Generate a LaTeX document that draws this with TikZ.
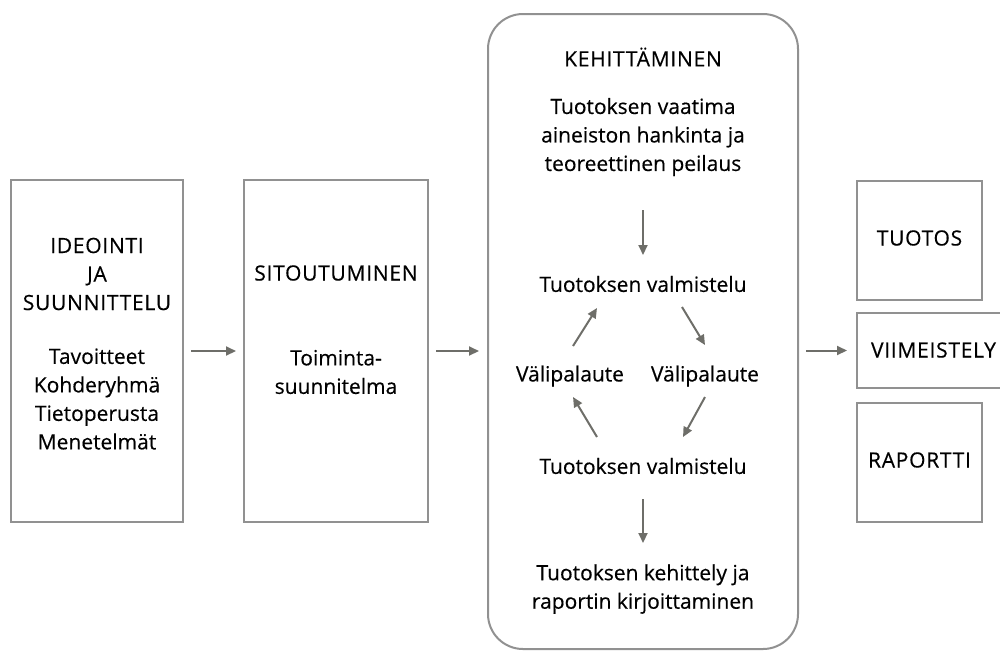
\documentclass[tikz,border=0pt]{standalone}
\usepackage{fontspec}
\setmainfont{Open Sans}[FakeBold=0.4]
\newfontfamily\capsfont{Open Sans}[FakeBold=0.4, LetterSpace=3.5]
\usetikzlibrary{arrows.meta}

\definecolor{boxgray}{RGB}{145,145,145}
\definecolor{arrowgray}{RGB}{110,110,105}
\tikzset{
	box/.style={draw=boxgray, line width=2pt, inner sep=0pt},
	txt/.style={align=center, inner sep=0pt, font=\fontsize{21}{28.5}\selectfont},
	caps/.style={txt, font=\fontsize{21}{28.5}\selectfont\capsfont},
	arr/.style={-{Triangle[length=10pt, width=9pt]}, line width=2pt, arrowgray},
}

\begin{document}
\begin{tikzpicture}[x=1pt, y=-1pt]
	\useasboundingbox (0,0) rectangle (1000,651);
	% boxes
	\node[box, minimum width=172pt, minimum height=342pt] (ideointi) at (97,351) {};
	\node[box, minimum width=184pt, minimum height=342pt] (sitoutuminen) at (336,351) {};
	\node[box, rounded corners=35pt, minimum width=310pt, minimum height=635pt] (kehittaminen) at (643,331.5) {};
	\node[box, minimum width=125pt, minimum height=119pt] (tuotos) at (919.5,240.5) {};
	\node[box, minimum width=153pt, minimum height=75pt] (viimeistely) at (933.5,350.5) {};
	\node[box, minimum width=125pt, minimum height=119pt] (raportti) at (919.5,462.5) {};
	% texts
	\node[caps] (idea) at (97,274) {IDEOINTI\\JA\\SUUNNITTELU};
	\node[txt] (lista) at (97,399) {Tavoitteet\\Kohderyhmä\\Tietoperusta\\Menetelmät};
	\node[caps] (sitou) at (336,273) {SITOUTUMINEN};
	\node[txt] (suunnitelma) at (336,372) {Toiminta-\\suunnitelma};
	\node[caps] (kehit) at (643,57) {KEHITTÄMINEN};
	\node[txt] (aineisto) at (643,137) {Tuotoksen vaatima\\aineiston hankinta ja\\teoreettinen peilaus};
	\node[txt] (valmistelu1) at (643,284) {Tuotoksen valmistelu};
	\node[txt] (palaute1) at (570,376) {Välipalaute};
	\node[txt] (palaute2) at (705,376) {Välipalaute};
	\node[txt] (valmistelu2) at (643,466) {Tuotoksen valmistelu};
	\node[txt] (kehittely) at (643,589) {Tuotoksen kehittely ja\\raportin kirjoittaminen};
	\node[caps] (tuot) at (919.5,238) {TUOTOS};
	\node[caps] (viim) at (933.5,350) {VIIMEISTELY};
	\node[caps] (rap) at (919.5,460) {RAPORTTI};
	% main flow
	\draw[arr, shorten <=7pt, shorten >=7pt] (ideointi) -- (sitoutuminen);
	\draw[arr, shorten <=7pt, shorten >=8pt] (sitoutuminen.east) -- (sitoutuminen.east -| kehittaminen.west);
	\draw[arr, shorten <=7pt, shorten >=9pt] (kehittaminen.east |- viimeistely.west) -- (viimeistely.west);
	% cycle
	\draw[arr] ([shift={(0,73)}]aineisto.center) -- ([shift={(0,-29)}]valmistelu1.center);
	\draw[arr] ([shift={(39,23)}]valmistelu1.center) -- ([shift={(0,-31)}]palaute2.center);
	\draw[arr] ([shift={(0,21)}]palaute2.center) -- ([shift={(40,-29)}]valmistelu2.center);
	\draw[arr] ([shift={(-46,-29)}]valmistelu2.center) -- ([shift={(3,21)}]palaute1.center);
	\draw[arr] ([shift={(3,-30)}]palaute1.center) -- ([shift={(-46,24)}]valmistelu1.center);
	\draw[arr] ([shift={(0,33)}]valmistelu2.center) -- ([shift={(0,-46)}]kehittely.center);
\end{tikzpicture}
\end{document}
